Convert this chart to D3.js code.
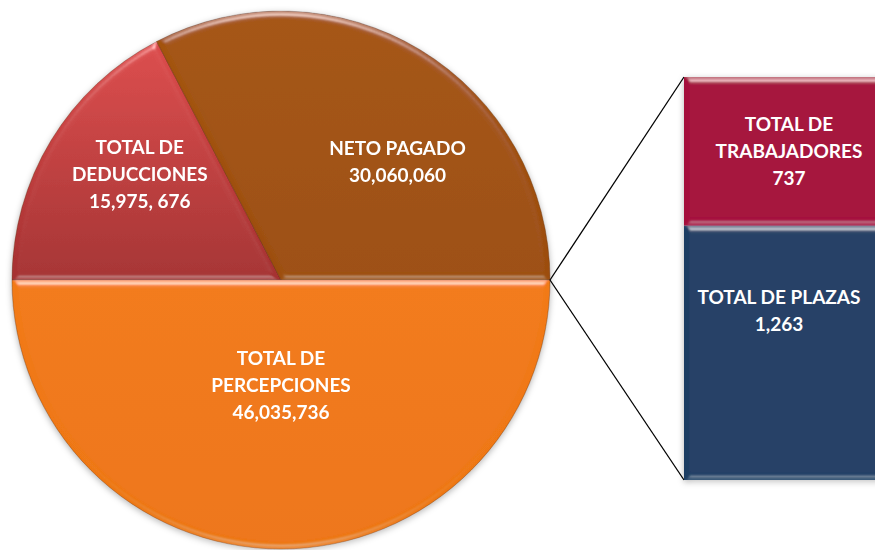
<html>
<head>
<meta charset="utf-8">
<script src="https://d3js.org/d3.v7.min.js"></script>
<style>
  body { margin: 0; background: #fff; overflow: hidden; }
  text { font-family: Lato, "Open Sans", sans-serif; font-weight: bold; fill: #fff; }
</style>
</head>
<body>
<div id="chart"></div>
<script>
// pie slices, clockwise from 9 o'clock
var sliceNames = ["TOTAL DE DEDUCCIONES", "NETO PAGADO", "TOTAL DE PERCEPCIONES"];
var sliceValues = [15975676, 30060060, 46035736];
var sliceLabels = [["TOTAL DE", "DEDUCCIONES", "15,975, 676"],
                   ["NETO PAGADO", "30,060,060"],
                   ["TOTAL DE", "PERCEPCIONES", "46,035,736"]];

// stacked bar, bottom to top
var barNames = ["TOTAL DE PLAZAS", "TOTAL DE TRABAJADORES"];
var barValues = [1263, 737];
var barLabels = [["TOTAL DE PLAZAS", "1,263"],
                 ["TOTAL DE", "TRABAJADORES", "737"]];

var width = 875, height = 550;
var cx = 281, cy = 280, r = 269;
var sliceColors = [["#dc4b4b", "#a53131"], ["#a4540f", "#9c4d0b"], ["#f27a14", "#ee7410"]];
var barColors = ["#1f3d64", "#a4073b"];
var labelRadius = [0.64, 0.62, 0.39];
var labelNudge = [[6, -17], [30, 24], [0, 0]];
var barLabelNudge = [[-8, -42], [2, 0]];
var lineH = 27;

var svg = d3.select("#chart").append("svg")
  .attr("width", width).attr("height", height);

var defs = svg.append("defs");

// bevel: light from top, shade from bottom
var bevel = defs.append("filter").attr("id", "bevel")
  .attr("x", "-5%").attr("y", "-5%").attr("width", "110%").attr("height", "110%");
bevel.append("feGaussianBlur").attr("in", "SourceAlpha").attr("stdDeviation", 3).attr("result", "blur");
bevel.append("feSpecularLighting").attr("in", "blur").attr("surfaceScale", 4)
  .attr("specularConstant", 0.7).attr("specularExponent", 30)
  .attr("lighting-color", "#ffffff").attr("result", "hi")
  .append("feDistantLight").attr("azimuth", 270).attr("elevation", 30);
bevel.append("feComposite").attr("in", "hi").attr("in2", "SourceAlpha").attr("operator", "in").attr("result", "hiIn");
bevel.append("feSpecularLighting").attr("in", "blur").attr("surfaceScale", 4)
  .attr("specularConstant", 0.7).attr("specularExponent", 30)
  .attr("lighting-color", "#ffffff").attr("result", "lo")
  .append("feDistantLight").attr("azimuth", 90).attr("elevation", 30);
bevel.append("feComposite").attr("in", "lo").attr("in2", "SourceAlpha").attr("operator", "in").attr("result", "loIn");
bevel.append("feComposite").attr("in", "SourceGraphic").attr("in2", "hiIn")
  .attr("operator", "arithmetic").attr("k2", 1).attr("k3", 0.6).attr("result", "lit");
// darken by multiplying, so the hue stays the same
bevel.append("feComposite").attr("in", "lit").attr("in2", "loIn")
  .attr("operator", "arithmetic").attr("k1", -0.6).attr("k2", 1);

var shadow = defs.append("filter").attr("id", "shadow")
  .attr("x", "-10%").attr("y", "-10%").attr("width", "120%").attr("height", "120%");
shadow.append("feDropShadow").attr("dx", 0).attr("dy", 2).attr("stdDeviation", 3)
  .attr("flood-color", "#000").attr("flood-opacity", 0.3);

sliceColors.forEach(function(c, i) {
  var g = defs.append("linearGradient").attr("id", "sg" + i)
    .attr("x1", 0).attr("y1", 0).attr("x2", 0).attr("y2", 1);
  g.append("stop").attr("offset", "0%").attr("stop-color", c[0]);
  g.append("stop").attr("offset", "100%").attr("stop-color", c[1]);
});

// ---- pie ----
var pie = d3.pie().sort(null)
  .startAngle(-Math.PI / 2).endAngle(Math.PI * 1.5)
  .value(function(d) { return d; });
var arcs = pie(sliceValues);
var arc = d3.arc().innerRadius(0).outerRadius(r);

var pieG = svg.append("g").attr("transform", "translate(" + cx + "," + cy + ")")
  .attr("filter", "url(#shadow)");

pieG.selectAll("path.slice")
  .data(arcs)
  .enter().append("path")
    .attr("class", "slice")
    .attr("d", arc)
    .attr("fill", function(d, i) { return "url(#sg" + i + ")"; })
    .attr("stroke", "rgba(90,40,10,0.35)")
    .attr("stroke-width", 1)
    .attr("filter", "url(#bevel)");

pieG.selectAll("text.plabel")
  .data(arcs)
  .enter().append("text")
    .attr("class", "plabel")
    .attr("text-anchor", "middle")
    .attr("font-size", 19)
    .each(function(d, i) {
      var lr = r * labelRadius[i];
      var c = d3.arc().innerRadius(lr).outerRadius(lr).centroid(d);
      var lines = sliceLabels[i];
      var x = c[0] + labelNudge[i][0];
      var y0 = c[1] + labelNudge[i][1] - (lines.length - 1) * lineH / 2 + 7;
      d3.select(this).selectAll("tspan").data(lines).enter().append("tspan")
        .attr("x", x).attr("y", function(t, j) { return y0 + j * lineH; })
        .text(function(t) { return t; });
    });

// ---- bar ----
var barX = 684, barW = 206;
var total = d3.sum(barValues);
var y = d3.scaleLinear().domain([0, total]).range([480, 77]);
var stacked = [];
barValues.reduce(function(acc, v, i) {
  stacked.push({ i: i, y0: acc, y1: acc + v });
  return acc + v;
}, 0);

// connector lines from the pie's right edge to the bar corners
var joint = [cx + r * Math.sin(arcs[1].endAngle), cy - r * Math.cos(arcs[1].endAngle)];
svg.selectAll("line.conn")
  .data([total, 0])
  .enter().append("line")
    .attr("class", "conn")
    .attr("x1", joint[0]).attr("y1", joint[1])
    .attr("x2", barX).attr("y2", function(d) { return y(d); })
    .attr("stroke", "#000").attr("stroke-width", 1.3);

var barG = svg.append("g").attr("filter", "url(#shadow)");
barG.selectAll("rect.seg")
  .data(stacked)
  .enter().append("rect")
    .attr("class", "seg")
    .attr("x", barX)
    .attr("width", barW)
    .attr("y", function(d) { return y(d.y1); })
    .attr("height", function(d) { return y(d.y0) - y(d.y1); })
    .attr("fill", function(d) { return barColors[d.i]; })
    .attr("filter", "url(#bevel)");

svg.selectAll("text.blabel")
  .data(stacked)
  .enter().append("text")
    .attr("class", "blabel")
    .attr("text-anchor", "middle")
    .attr("font-size", 19)
    .each(function(d) {
      var lines = barLabels[d.i];
      var x = barX + barW / 2 + barLabelNudge[d.i][0];
      var mid = (y(d.y0) + y(d.y1)) / 2 + barLabelNudge[d.i][1];
      var y0 = mid - (lines.length - 1) * lineH / 2 + 7;
      d3.select(this).selectAll("tspan").data(lines).enter().append("tspan")
        .attr("x", x).attr("y", function(t, j) { return y0 + j * lineH; })
        .text(function(t) { return t; });
    });
</script>
</body>
</html>
